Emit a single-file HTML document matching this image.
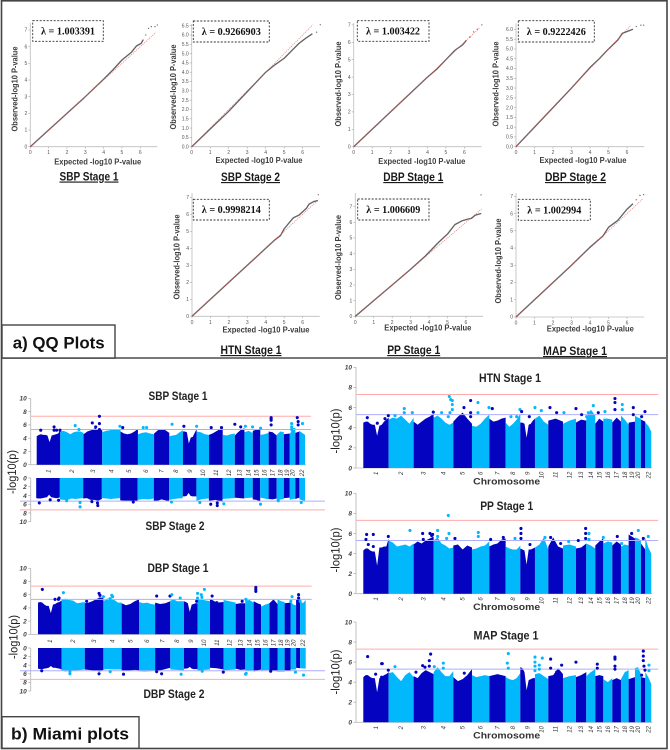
<!DOCTYPE html>
<html lang="en">
<head>
<meta charset="utf-8">
<title>QQ and Miami plots</title>
<style>
html,body{margin:0;padding:0;background:#fff;}
svg{display:block;filter:blur(0.35px);}
text{font-family:"Liberation Sans",sans-serif;}
.qq-x,.qq-y{font-size:8px;font-weight:bold;fill:#3c3c3c;}
.qq-title{font-size:11.5px;font-weight:bold;fill:#1a1a1a;text-decoration:underline;}
.lam{font-family:"Liberation Serif",serif;font-size:10px;font-weight:bold;fill:#111;}
.lam-box{fill:#fff;stroke:#333;stroke-width:0.9;stroke-dasharray:2 1.5;}
.m-title{font-size:11.5px;font-weight:bold;fill:#222;}
.m-ylab{font-size:11.5px;fill:#222;}
.chrom{font-size:9.5px;font-weight:bold;fill:#333;}
.sec{font-size:17px;font-weight:bold;fill:#111;}
.tk{font-size:5px;fill:#555;}
.mtk{font-size:6.5px;font-weight:bold;font-style:italic;fill:#444;}
.clab{font-size:6px;font-style:italic;fill:#333;}
</style>
</head>
<body>
<svg id="fig" xmlns="http://www.w3.org/2000/svg" width="670" height="750" viewBox="0 0 670 750">
<rect x="0" y="0" width="670" height="750" fill="#fff"/>
<rect x="1.5" y="0.8" width="665.5" height="747.7" fill="none" stroke="#444" stroke-width="1.6"/>
<line x1="2" y1="358" x2="667" y2="358" stroke="#666" stroke-width="1.8"/>
<g id="qq-layer"></g>
<g id="miami-layer"></g>

<g>
<rect class="lam-box" x="32.7" y="20.7" width="70.6" height="20.6"/>
<text class="lam" x="68" y="34.5" text-anchor="middle" textLength="54" lengthAdjust="spacingAndGlyphs">λ = 1.003391</text>
<rect class="lam-box" x="193.3" y="21" width="76" height="21"/>
<text class="lam" x="231.3" y="34.8" text-anchor="middle" textLength="59" lengthAdjust="spacingAndGlyphs">λ = 0.9266903</text>
<rect class="lam-box" x="357.3" y="20.7" width="71.7" height="20.6"/>
<text class="lam" x="393" y="34.5" text-anchor="middle" textLength="54" lengthAdjust="spacingAndGlyphs">λ = 1.003422</text>
<rect class="lam-box" x="518.3" y="20.7" width="76" height="21.3"/>
<text class="lam" x="556.3" y="34.8" text-anchor="middle" textLength="59" lengthAdjust="spacingAndGlyphs">λ = 0.9222426</text>
<rect class="lam-box" x="193.3" y="199.3" width="76" height="20.7"/>
<text class="lam" x="231.3" y="213" text-anchor="middle" textLength="59" lengthAdjust="spacingAndGlyphs">λ = 0.9998214</text>
<rect class="lam-box" x="357.7" y="199" width="71.3" height="21"/>
<text class="lam" x="393.3" y="212.8" text-anchor="middle" textLength="54" lengthAdjust="spacingAndGlyphs">λ = 1.006609</text>
<rect class="lam-box" x="518.3" y="199.3" width="72" height="21"/>
<text class="lam" x="554.3" y="213.3" text-anchor="middle" textLength="54" lengthAdjust="spacingAndGlyphs">λ = 1.002994</text>

<text class="qq-x" x="97.7" y="164.5" text-anchor="middle" textLength="87" lengthAdjust="spacingAndGlyphs">Expected -log10 P-value</text>
<text class="qq-x" x="259" y="163" text-anchor="middle" textLength="87" lengthAdjust="spacingAndGlyphs">Expected -log10 P-value</text>
<text class="qq-x" x="421.8" y="164" text-anchor="middle" textLength="87" lengthAdjust="spacingAndGlyphs">Expected -log10 P-value</text>
<text class="qq-x" x="583" y="163" text-anchor="middle" textLength="87" lengthAdjust="spacingAndGlyphs">Expected -log10 P-value</text>
<text class="qq-x" x="266" y="332.5" text-anchor="middle" textLength="87" lengthAdjust="spacingAndGlyphs">Expected -log10 P-value</text>
<text class="qq-x" x="427.8" y="330.5" text-anchor="middle" textLength="87" lengthAdjust="spacingAndGlyphs">Expected -log10 P-value</text>
<text class="qq-x" x="590.3" y="331.5" text-anchor="middle" textLength="87" lengthAdjust="spacingAndGlyphs">Expected -log10 P-value</text>

<text class="qq-y" transform="translate(17.5 89) rotate(-90)" text-anchor="middle" textLength="85" lengthAdjust="spacingAndGlyphs">Observed-log10 P-value</text>
<text class="qq-y" transform="translate(176 87) rotate(-90)" text-anchor="middle" textLength="85" lengthAdjust="spacingAndGlyphs">Observed-log10 P-value</text>
<text class="qq-y" transform="translate(341 84) rotate(-90)" text-anchor="middle" textLength="85" lengthAdjust="spacingAndGlyphs">Observed-log10 P-value</text>
<text class="qq-y" transform="translate(498.5 84) rotate(-90)" text-anchor="middle" textLength="85" lengthAdjust="spacingAndGlyphs">Observed-log10 P-value</text>
<text class="qq-y" transform="translate(179.5 257) rotate(-90)" text-anchor="middle" textLength="85" lengthAdjust="spacingAndGlyphs">Observed-log10 P-value</text>
<text class="qq-y" transform="translate(341 257.5) rotate(-90)" text-anchor="middle" textLength="85" lengthAdjust="spacingAndGlyphs">Observed-log10 P-value</text>
<text class="qq-y" transform="translate(501 261) rotate(-90)" text-anchor="middle" textLength="85" lengthAdjust="spacingAndGlyphs">Observed-log10 P-value</text>

<text class="qq-title" x="89" y="180.5" text-anchor="middle" textLength="59" lengthAdjust="spacingAndGlyphs">SBP Stage 1</text>
<text class="qq-title" x="250.5" y="181" text-anchor="middle" textLength="59" lengthAdjust="spacingAndGlyphs">SBP Stage 2</text>
<text class="qq-title" x="413.3" y="181" text-anchor="middle" textLength="60" lengthAdjust="spacingAndGlyphs">DBP Stage 1</text>
<text class="qq-title" x="575.5" y="181" text-anchor="middle" textLength="61" lengthAdjust="spacingAndGlyphs">DBP Stage 2</text>
<text class="qq-title" x="251" y="354" text-anchor="middle" textLength="61" lengthAdjust="spacingAndGlyphs">HTN Stage 1</text>
<text class="qq-title" x="413.7" y="354" text-anchor="middle" textLength="53" lengthAdjust="spacingAndGlyphs">PP Stage 1</text>
<text class="qq-title" x="575" y="355" text-anchor="middle" textLength="64" lengthAdjust="spacingAndGlyphs">MAP Stage 1</text>
</g>

<g>
<text class="m-title" x="178" y="400" text-anchor="middle" textLength="59" lengthAdjust="spacingAndGlyphs">SBP Stage 1</text>
<text class="m-title" x="175" y="530" text-anchor="middle" textLength="59" lengthAdjust="spacingAndGlyphs">SBP Stage 2</text>
<text class="m-title" x="178" y="572" text-anchor="middle" textLength="61" lengthAdjust="spacingAndGlyphs">DBP Stage 1</text>
<text class="m-title" x="174" y="698" text-anchor="middle" textLength="61" lengthAdjust="spacingAndGlyphs">DBP Stage 2</text>
<text class="m-title" x="510" y="382" text-anchor="middle" textLength="62" lengthAdjust="spacingAndGlyphs">HTN Stage 1</text>
<text class="m-title" x="506.7" y="510" text-anchor="middle" textLength="53" lengthAdjust="spacingAndGlyphs">PP Stage 1</text>
<text class="m-title" x="506" y="639.5" text-anchor="middle" textLength="65" lengthAdjust="spacingAndGlyphs">MAP Stage 1</text>

<text class="m-ylab" transform="translate(16 472) rotate(-90)" text-anchor="middle" textLength="44" lengthAdjust="spacingAndGlyphs">-log10(p)</text>
<text class="m-ylab" transform="translate(17.5 637) rotate(-90)" text-anchor="middle" textLength="44" lengthAdjust="spacingAndGlyphs">-log10(p)</text>
<text class="m-ylab" transform="translate(339.5 431) rotate(-90)" text-anchor="middle" textLength="45" lengthAdjust="spacingAndGlyphs">-log10(p)</text>
<text class="m-ylab" transform="translate(339.5 550) rotate(-90)" text-anchor="middle" textLength="45" lengthAdjust="spacingAndGlyphs">-log10(p)</text>
<text class="m-ylab" transform="translate(339.5 672) rotate(-90)" text-anchor="middle" textLength="45" lengthAdjust="spacingAndGlyphs">-log10(p)</text>

<text class="chrom" x="506.7" y="484.5" text-anchor="middle" textLength="67" lengthAdjust="spacingAndGlyphs">Chromosome</text>
<text class="chrom" x="506.7" y="610" text-anchor="middle" textLength="67" lengthAdjust="spacingAndGlyphs">Chromosome</text>
<text class="chrom" x="506.7" y="738.5" text-anchor="middle" textLength="67" lengthAdjust="spacingAndGlyphs">Chromosome</text>
</g>

<g>
<rect x="2" y="325" width="113" height="33" fill="#fff" stroke="#444" stroke-width="1.4"/>
<text class="sec" x="12.7" y="348.5" textLength="92" lengthAdjust="spacingAndGlyphs">a) QQ Plots</text>
</g>
<g>
<rect x="2" y="716.7" width="137" height="31.6" fill="#fff" stroke="#444" stroke-width="1.4"/>
<text class="sec" x="11" y="739.5" textLength="118" lengthAdjust="spacingAndGlyphs">b) Miami plots</text>
</g>
</svg>

<script>
/* ---------- QQ data: expected and observed -log10 P ---------- */
const qqXTickLabels = [0,1,2,3,4,5,6];
const qqYTicksInt = [0,1,2,3,4,5,6,7];
const qqYTicksSbp2 = [0,0.5,1,1.5,2,2.5,3,3.5,4,4.5,5,5.5,6,6.5];
const qqYTicksDbp2 = [0,0.5,1,1.5,2,2.5,3,3.5,4,4.5,5,5.5,6];

const expectedSbp1 = [0,1,2,3,4,4.5,5,5.5,5.8,6.05,6.15,6.3,6.45,6.6,6.8,6.93];
const observedSbp1 = [0,1,2,3,4.05,4.6,5.2,5.65,6.05,6.2,6.4,6.7,7.1,7.2,7.2,7.3];
const expectedSbp2 = [0,1,2,3,4,4.5,5,5.5,5.8,6,6.2,6.5,6.75,6.95];
const observedSbp2 = [0,0.95,1.9,2.95,4,4.4,4.75,5.25,5.55,5.7,5.85,6.05,6.15,6.55];
const expectedDbp1 = [0,1,2,3,4,4.5,5,5.5,5.9,6.1,6.3,6.5,6.7,6.95];
const observedDbp1 = [0,1,2,3,4,4.45,5,5.55,5.85,6.1,6.3,6.6,6.75,7];
const expectedDbp2 = [0,1,2,3,4,4.5,5,5.5,5.75,6.3,6.5,6.75,6.9];
const observedDbp2 = [0,1,2,3,4.05,4.5,5,5.45,5.8,6,6.15,6.22,6.22];
const expectedHtn = [0,1,2,3,4,4.5,4.8,5,5.5,5.8,6.2,6.35,6.6,6.8,6.85];
const observedHtn = [0,1,2,3,4,4.5,4.75,5.15,5.8,5.95,6.35,6.6,6.75,6.8,7.15];
const expectedPp = [0,1,2,3,3.8,4.5,5,5.4,5.8,6.1,6.3,6.5,6.8,6.82];
const observedPp = [0,1,2,3,3.85,4.7,5.25,5.85,6.1,6.2,6.25,6.45,6.55,7.75];
const expectedMap = [0,1,2,3,4,4.7,5,5.5,6,6.3,6.5,6.7,6.9];
const observedMap = [0,1,2,3,4.05,4.7,5.2,5.6,6.25,6.55,6.8,7.05,7.1];

/* ---------- Miami data ---------- */
const chromLabels = ["1","2","3","4","5","6","7","8","9","10","11","12","13","14","15","16","17","18","19","20","","22"];
const chromLengths = [76,75,60,59,56,52,49,44,44,40,44,39,31,27,24,27,26,23,19,18,13,18];
const sigThreshold = 7.3;
const suggestiveThreshold = 5.3;
const miamiYTicks = [0,2,4,6,8,10];

/* per-chromosome upper envelope of the -log10(p) cloud */
const topsSbp1 = [[4.3,4.5,4.6,4.5,4.5,4.4,3.4,4.4,4.5,4.6,4.7,5.2],[5,5.1,4.9,4.6,4.9,5,5,4.8],[4.6,5,5.2,5.5,5.3,5.2],[4.9,5.1,5.2,5.3,5.4,5.2],[5,4.7,4.6,4.7,5,5.4],[4.6,4.8,4.9,4.7,4.6],[4.7,5.2,5.4,5.2,4.8],[4.3,4.4,4.5,4.9,5.2],[5,5,4.9,3.2,4.1,4.2,4.8,5.4],[5,4.9,4.6,4.5],[4.5,4.7,5,5.3,5.5],[4.5,4.4,4.6,4.7],[4.4,4.9,5.3,5.5],[4.9,5.1,4.8],[5.1,5.3,5.4],[4.5,4.6,4.8],[5,4.9,4.4],[4.5,5,4.9],[4.6,4.7],[4.6,5.5,5.6],[4.8,5],[5.1,4.5]];
const topsSbp2 = [[4.6,4.7,4.7,4.6,4.5,4.4,3.8,4.4,4.5,4.6,4.6,4.4],[4.9,5,5,4.7,4.8,4.7,4.6],[4.7,4.6,5,5,5.2,4.8],[4.6,4.7,4.8,4.7,4.6],[5.1,5.2,5.2,5.4,5.3],[5,4.8,4.9,4.7],[5.3,5.2,4.9,5.1,5.4],[5,4.8,4.7,4.6],[4.2,4.2,4.1,3.4,4.1,4.2,4.2,4.2],[5.2,4.8,4.7],[5.2,5,5.5],[4.8,4.7,4.6],[4.5,4.6,4.7],[4.6,4.5],[4.9,5,5.4],[4.5,4.9],[4.8,4.9,4.7],[5.1,4.8],[4.6,4.5],[5,4.7],[4.8,4.5],[4.9,5.3]];
const topsDbp1 = [[4.8,4.9,4.8,4.5,4.3,4.3,3.2,4.5,4.6,4.8,4.9,5.1],[5.2,5.4,5.2,5.1,4.7,4.8,4.9],[4.7,4.8,5,5.3,5.6,5.5],[5,5.4,5.5,5.2,4.8,4.8],[4.7,4.4,4.6,5,5.3],[4.9,4.7,4.8,4.6,4.5],[4.8,4.6,4.7,5],[5.1,5.3,5,5,5],[5,4.9,4.7,3.4,4.5,4.6,4.7,4.7],[5.3,5.2,5],[5.4,4.8,4.9],[5.2,5,4.8],[4.6,4.7,4.7],[5.1,5.2,4.8],[5,4.7,4.5],[4.2,4.5,4.7],[4.7,5.3,4.6],[5.3,5,4.9],[4.7,4.8],[5,4.5,4.4],[5.2,5.6],[5,4.7,5.2]];
const topsDbp2 = [[4.8,4.9,4.9,4.8,4.7,4.6,4.2,4.6,4.6,4.7,4.8,5],[5.2,5.5,5.3,5.2,5.2,5.1,5],[5,5.1,5.2,5.3,5.5,5.1],[5,4.9,5,5,5],[5.2,5.3,5.2,5.1,5.2],[5.4,5.5,5.4,5.3],[5.5,5.2,4.9,4.6],[5,5.1,5.2],[4.8,4.8,4.7,4.4,4.8,4.9,4.9,4.9],[5.3,5.1,5],[4.6,4.7,5],[5.2,5.1,5],[4.8,5.1,5],[5.3,5.2],[5.5,5.2,5],[5.2,5.1],[5.2,5.4],[5.5,5.5],[5.2,5.3],[5,5],[4.6,4.7],[4.7,4.8]];
const topsHtn = [[4.5,4.6,4.6,4.4,4.3,4.3,3.2,4.2,4.3,4.6,4.8,5],[4.8,5,4.9,5.2,4.8,4.4,5],[4.6,4.3,4.6,4.9,5.1,5.4],[5,5.2,4.9,4.5,4.3,4.5],[4.6,5.1,5.5,4.9,4.4],[4.2,4.1,4.4,4.9,5.3],[4.9,4.6,4.7,4.9,5],[4.5,4.1,4.4,4.8,5.4],[4.5,4.5,4.4,3,4.3,4.4,4.7,4.9],[4.9,5.2,4.6,4.3],[4.7,4.9,4.6],[4.4,4.7,4.9],[4.5,4.8,4.7],[5,5.8,5.2],[4.4,4.9,4.6],[4.9,4.9,4.8],[4.5,5,4.6],[5.2,4.8,4.3],[4.5,4.6],[5.2,5,4.9],[4.8,4.6],[4.5,4.2,3.6]];
const topsPp = [[4.3,4.5,4.5,4.3,4.2,4.2,2.8,4.6,4.6,4.7,4.7,5.5],[5.3,5.1,4.7,4.8,4.9,4.7,5],[4.9,5.2,5,5.3,5.5,5.7],[5.3,5.6,5,4.8,4.5,4.6],[4.8,4.9,4.4,4.8,4.6],[4.4,4.5,4.7,4.8,5.2],[4.7,4.9,5,5.4,5.5],[4.7,4.5,4.4,4.4,4.8],[4.5,4.4,4.3,2.9,4.4,4.4,4.5,4.6],[4.6,4.9,5.6,4.4],[4.7,5.6,4.7,4.5],[4.8,4.9,4.7],[4.5,4.6,5],[5,4.8,4.5],[4.8,5.2,5.5],[5,5.2,5.1],[4.8,5.2,4.9],[4.7,4.9,4.8],[5.9,5.5],[5.6,5.5,5.3],[5,4.4],[5.6,4.6,4]];
const topsMap = [[4.5,4.7,4.7,4.5,4.4,4.4,3,4.4,4.5,4.7,4.8,5],[4.9,5,4.5,4.1,4.7,5,4.5],[4.6,4.4,4.9,5.2,5,4.8],[5,5.5,5,4.6,4.6,5.1],[4.5,4.1,4.3,4.7,5.3],[4.7,4.5,4.6,4.7,4.6],[4.6,4.7,4.8,4.7,4.6],[4.5,4.3,4.2,4.4,4.9],[5.5,5.4,5,3.2,4.2,4.3,4.4,4.4],[4.8,4.9,4.6,4.3],[4.6,4.7,5.4,4.8],[4.4,4.6,4.7],[4.5,4.7,5],[4.6,5,5.3],[4.6,4.7,4.6],[4.3,4,4.4],[4.2,4.4,4.2],[4.3,5,5.2],[4.3,4.5],[5.4,5.5,4.8],[4.5,4.4],[5,4.5,3.8]];

/* outlying SNPs: [genome position on the chromLengths scale, -log10(p)] */
const hitsSbp1 = [[13,5.2],[56,5.7],[56,5.2],[64,5.2],[75,5.2],[124,5.9],[136,5.3],[179,6.3],[202,7.3],[202,6.2],[202,5.3],[190,5.7],[268,5.8],[277,5.6],[343,5.6],[354,5.6],[436,6.1],[474,5.8],[515,5.8],[562,5.6],[595,5.6],[638,6.1],[672,5.8],[657,5.7],[695,5.7],[721,5.5],[755,7.1],[755,6.9],[755,6.7],[755,6],[821,6.2],[821,5.7],[821,5.3],[839,7.1],[842,6.5],[842,6],[856,6.2]];
const hitsSbp2 = [[10,5.7],[45,5],[72,5.1],[141,5.6],[141,6.6],[98,5.2],[179,5.4],[198,6.3],[197,5.7],[312,5.5],[435,5.5],[526,5.6],[561,6],[582,6.3],[582,5.7],[603,5.9],[721,6],[778,5.2],[852,5.6]];
const hitsDbp1 = [[14,6.8],[55,5.3],[66,5.3],[68,5.5],[82,6.3],[157,5],[197,6.2],[200,5.9],[211,5.7],[233,5.4],[238,5.9],[241,5.7],[383,5.8],[426,5.8],[432,6],[459,5.5],[515,6.2],[515,5.5],[512,5],[527,6],[529,5.6],[537,6.8],[562,5.8],[577,4.8],[659,5],[671,5.3],[703,7.1],[703,6.8],[703,6.5],[820,5.7],[816,5],[841,6],[841,5.5],[846,5]];
const hitsDbp2 = [[12,5.3],[103,6],[103,5.5],[197,6],[233,5.5],[276,6.1],[383,5.5],[399,6],[462,6.1],[530,5.4],[598,5.6],[670,6.1],[672,5.9],[751,5.4],[831,5.6],[857,6.3]];
const hitsHtn = [[12,5],[42,4.45],[65,4.9],[75,5.2],[95,5.2],[123,5.9],[123,5.5],[147,5.5],[210,5.55],[235,5.5],[258,7.1],[262,6.8],[267,6.7],[267,6.3],[267,5.8],[260,5.5],[255,5.1],[322,6.7],[302,6],[322,5.5],[322,5.1],[344,6.5],[344,5.5],[377,6],[387,5.9],[470,5.8],[475,5.6],[443,5.1],[460,5.1],[515,6],[498,5.1],[534,5.7],[560,6],[580,5.5],[602,5.5],[638,5.9],[655,5.3],[670,5.1],[675,5.5],[690,6.2],[725,5.6],[705,5.5],[755,6.9],[755,6.5],[755,5.8],[777,6.3],[777,5.8],[810,6],[810,5.3],[845,5.6],[835,5.1]];
const hitsPp = [[10,5.9],[30,5.9],[8,5.4],[15,4.9],[30,4.7],[75,5.7],[140,6.3],[178,6],[180,5.4],[200,6],[205,5.8],[208,5.9],[223,6.3],[223,5.7],[255,7.8],[257,6],[250,5.5],[275,5.5],[345,6.1],[345,5.7],[382,5.4],[420,5.6],[455,5.5],[473,6.5],[473,6],[473,5.5],[500,4.9],[545,5.6],[562,5.6],[592,5],[616,5.2],[645,5.3],[667,6.5],[667,6],[667,5.5],[677,6],[677,5.4],[720,5.6],[762,5.7],[775,5],[805,6],[825,6.3],[840,5.5],[855,5.7]];
const hitsMap = [[13,6.55],[55,5.85],[57,5.85],[37,4.8],[55,4.5],[95,5.55],[75,5.2],[202,6.8],[198,6.15],[198,5.6],[178,5.65],[185,5.5],[213,5.55],[158,5],[240,5.9],[240,5.4],[303,4.9],[435,6.85],[432,5.9],[435,5.4],[515,6.5],[515,6],[515,5.6],[515,5.15],[537,6.4],[528,5.7],[528,5.3],[562,6.3],[562,5.4],[595,5.7],[580,5],[638,6],[702,5.8],[702,5.4],[755,6.5],[755,6.3],[755,5.6],[755,5.3],[840,7.1],[840,6.6],[840,6.15],[842,5.6],[845,5.2],[835,4.7],[857,5.7],[857,5.15]];

/* ---------- Helpers ---------- */
const NS = "http://www.w3.org/2000/svg";
const qqLayer = document.getElementById("qq-layer");
const miamiLayer = document.getElementById("miami-layer");
function mk(tag, parent, attrs){
  const el = document.createElementNS(NS, tag);
  for (const k in attrs) el.setAttribute(k, attrs[k]);
  parent.appendChild(el);
  return el;
}

/* ---------- QQ panel ---------- */
function drawQQ(p, expected, observed, yTicks){
  const sx = v => p.x0 + v * p.ux;
  const sy = v => p.y0 - v * p.uy;
  const g = mk("g", qqLayer, {});
  
  

  const yAxis = mk("line", g, {x1:p.x0, y1:p.top, x2:p.x0, y2:p.y0, stroke:"#bdbdbd", "stroke-width":0.8});
  
  
  const xAxis = mk("line", g, {x1:p.x0, y1:p.y0, x2:sx(6.93), y2:p.y0, stroke:"#bdbdbd", "stroke-width":0.8});
  
  

  yTicks.forEach(v => {
    const t = mk("line", g, {x1:p.x0-2, y1:sy(v), x2:p.x0, y2:sy(v), stroke:"#aaa", "stroke-width":0.6});
    
    
    const l = mk("text", g, {class:"tk", x:p.x0-3, y:sy(v)+1.7, "text-anchor":"end"});
    
    
    l.textContent = p.fmt ? v.toFixed(1) : String(v);
  });
  qqXTickLabels.forEach(v => {
    const t = mk("line", g, {x1:sx(v), y1:p.y0, x2:sx(v), y2:p.y0+2, stroke:"#aaa", "stroke-width":0.6});
    
    
    const l = mk("text", g, {class:"tk", x:sx(v), y:p.y0+7.5, "text-anchor":"middle"});
    
    
    l.textContent = String(v);
  });

  const solid = expected.slice(0, p.tailFrom + 1).map((e, i) => sx(e) + "," + sy(observed[i])).join(" ");
  const line = mk("polyline", g, {points:solid, fill:"none", stroke:"#636363", "stroke-width":1.35, "stroke-linejoin":"round"});
  
  
  for (let i = p.tailFrom; i < expected.length; i++){
    const d = mk("circle", g, {cx:sx(expected[i]), cy:sy(observed[i]), r:0.65, fill:"#666"});
    
    
  }
  const diag = mk("line", g, {x1:sx(0), y1:sy(0), x2:sx(p.diag), y2:sy(p.diag), stroke:"#f04a4a", "stroke-width":0.8, "stroke-dasharray":"1.2 1", "stroke-opacity":0.7});
  
  
}

drawQQ({id:"sbp1", x0:30.3, ux:18.33, y0:146.7, uy:16.67, top:23, diag:6.85, tailFrom:10}, expectedSbp1, observedSbp1, qqYTicksInt);
drawQQ({id:"sbp2", x0:191.7, ux:18.5, y0:146.7, uy:18.62, top:24, diag:6.55, tailFrom:11, fmt:true}, expectedSbp2, observedSbp2, qqYTicksSbp2);
drawQQ({id:"dbp1", x0:353.7, ux:18.44, y0:146.7, uy:17.4, top:23, diag:6.85, tailFrom:9}, expectedDbp1, observedDbp1, qqYTicksInt);
drawQQ({id:"dbp2", x0:516, ux:18.5, y0:146.7, uy:19.55, top:23.3, diag:6.2, tailFrom:9, fmt:true}, expectedDbp2, observedDbp2, qqYTicksDbp2);
drawQQ({id:"htn", x0:192, ux:18.44, y0:316.3, uy:17, top:193, diag:6.85, tailFrom:13}, expectedHtn, observedHtn, qqYTicksInt);
drawQQ({id:"pp", x0:355.3, ux:18.44, y0:316.3, uy:15.67, top:193, diag:6.85, tailFrom:12}, expectedPp, observedPp, qqYTicksInt);
drawQQ({id:"map", x0:516, ux:18.5, y0:317, uy:17.24, top:193, diag:6.85, tailFrom:9}, expectedMap, observedMap, qqYTicksInt);

/* ---------- Miami panel ---------- */
const DARK = "#0303c0";
const LIGHT = "#02b8fd";
const genomeTotal = chromLengths.reduce((a, b) => a + b, 0);

function chromIndexAt(pos){
  let c = 0;
  for (let i = 0; i < chromLengths.length; i++){
    c += chromLengths[i];
    if (pos < c) return i;
  }
  return chromLengths.length - 1;
}

function drawMiami(p, tops, hits){
  const sx = v => p.x0 + v * (p.x1 - p.x0) / genomeTotal;
  const sy = v => p.y0 - v * p.unit;
  const g = mk("g", miamiLayer, {});
  
  

  const yAxis = mk("line", g, {x1:p.axisX, y1:sy(0), x2:p.axisX, y2:sy(10), stroke:"#bbb", "stroke-width":0.9});
  
  
  if (p.unit > 0){
    const xAxis = mk("line", g, {x1:p.axisX, y1:p.y0, x2:p.x1 + 1, y2:p.y0, stroke:"#bbb", "stroke-width":0.8});
    
    
  }
  miamiYTicks.forEach(v => {
    const t = mk("line", g, {x1:p.axisX-2.5, y1:sy(v), x2:p.axisX, y2:sy(v), stroke:"#aaa", "stroke-width":0.7});
    
    
    const l = mk("text", g, {class:"mtk", x:p.axisX-4, y:sy(v)+2.3, "text-anchor":"end"});
    
    
    l.textContent = String(v);
  });

  let cum = 0;
  chromLengths.forEach((len, i) => {
    const profile = tops[i];
    const a = sx(cum), b = sx(cum + len);
    const pts = [a + "," + sy(0)];
    profile.forEach((v, k) => {
      const t = profile.length > 1 ? k / (profile.length - 1) : 0.5;
      pts.push((a + (b - a) * t) + "," + sy(v));
    });
    pts.push(b + "," + sy(0));
    const bar = mk("polygon", g, {points:pts.join(" "), fill:i % 2 ? LIGHT : DARK});
    
    
    if (p.labelY !== undefined && chromLabels[i]){
      const cx = (a + b) / 2;
      const l = mk("text", g, {class:"clab", "text-anchor":"end", transform:"translate(" + (cx + 2) + " " + p.labelY + ") rotate(-90)"});
      
      
      l.textContent = chromLabels[i];
    }
    cum += len;
  });

  const sig = mk("line", g, {x1:p.lx0, y1:sy(sigThreshold), x2:p.lx1, y2:sy(sigThreshold), stroke:"#ffabab", "stroke-width":1});
  
  
  const sug = mk("line", g, {x1:p.lx0, y1:sy(suggestiveThreshold), x2:p.lx1, y2:sy(suggestiveThreshold), stroke:"#aeaeff", "stroke-width":1});
  
  

  hits.forEach(h => {
    const d = mk("circle", g, {cx:sx(h[0]), cy:sy(h[1]), r:1.55, fill:chromIndexAt(h[0]) % 2 ? LIGHT : DARK});
    
    
  });
}

drawMiami({id:"sbp1", axisX:30.7, x0:36.7, x1:305, y0:464.7, unit:6.63, lx0:30.7, lx1:311, labelY:469.5}, topsSbp1, hitsSbp1);
drawMiami({id:"sbp2", axisX:30.7, x0:36.2, x1:305, y0:478, unit:-4.37, lx0:20, lx1:325}, topsSbp2, hitsSbp2);
drawMiami({id:"dbp1", axisX:30.7, x0:38, x1:305.7, y0:634.3, unit:6.6, lx0:30.7, lx1:311.7, labelY:639.5}, topsDbp1, hitsDbp1);
drawMiami({id:"dbp2", axisX:30.7, x0:38, x1:305.7, y0:648, unit:-4.3, lx0:20, lx1:325}, topsDbp2, hitsDbp2);
drawMiami({id:"htn", axisX:356, x0:363.3, x1:651.3, y0:468, unit:10.07, lx0:356, lx1:658.3, labelY:471.7}, topsHtn, hitsHtn);
drawMiami({id:"pp", axisX:356, x0:363.3, x1:651.3, y0:593.7, unit:10.04, lx0:356, lx1:658.3, labelY:597.3}, topsPp, hitsPp);
drawMiami({id:"map", axisX:356, x0:363.3, x1:651.3, y0:722.3, unit:10.03, lx0:356, lx1:658.3, labelY:726}, topsMap, hitsMap);
</script>
</body>
</html>
